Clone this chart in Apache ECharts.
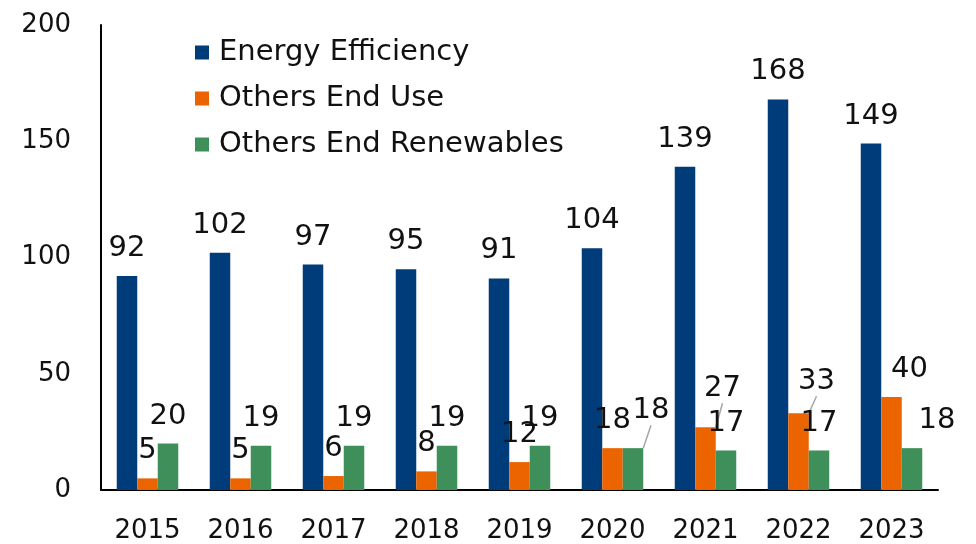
<!DOCTYPE html>
<html>
<head>
<meta charset="utf-8">
<script src="https://cdn.jsdelivr.net/npm/echarts@6/dist/echarts.min.js"></script>
<style>
  html, body { margin: 0; padding: 0; background: #fff; }
  #main { width: 976px; height: 544px; }
</style>
</head>
<body>
<div id="main"></div>
<script>
// data
var years = ['2015', '2016', '2017', '2018', '2019', '2020', '2021', '2022', '2023'];
var energyEfficiency = [92, 102, 97, 95, 91, 104, 139, 168, 149];
var othersEndUse = [5, 5, 6, 8, 12, 18, 27, 33, 40];
var othersEndRenewables = [20, 19, 19, 19, 19, 18, 17, 17, 18];
var yTicks = [0, 50, 100, 150, 200];

// labels that were dragged aside in the original (series -> dataIndex -> [dx, dy, line])
var labelShift = {
  1: { 6: [17, -11, true], 7: [18, -4, true], 8: [18, 0, false] },
  2: { 5: [18, -10, true], 8: [25, 0, false] }
};

var font = 'DejaVu Sans';

function items(values, seriesIdx) {
  return values.map(function (v, i) {
    var s = labelShift[seriesIdx] && labelShift[seriesIdx][i];
    return {
      value: v,
      labelLine: { show: !!(s && s[2]) }
    };
  });
}

function barSeries(name, values, color, idx) {
  return {
    name: name,
    type: 'bar',
    barWidth: 20.5,
    barGap: '0%',
    data: items(values, idx),
    itemStyle: { color: color },
    label: {
      show: true,
      position: 'top',
      distance: 13,
      color: '#111',
      fontFamily: font,
      fontSize: 29
    },
    labelLine: {
      show: false,
      lineStyle: { color: '#a6a6a6', width: 1.5 }
    },
    labelLayout: function (p) {
      var s = labelShift[idx] && labelShift[idx][p.dataIndex];
      if (!s) return {};
      return { dx: s[0], dy: s[1] };
    }
  };
}

var chart = echarts.init(document.getElementById('main'));
chart.setOption({
  animation: false,
  backgroundColor: '#fff',
  grid: { left: 101, right: 38, top: 25, bottom: 54 },
  legend: {
    orient: 'vertical',
    left: 190,
    top: 33,
    itemWidth: 14,
    itemHeight: 14,
    itemGap: 17,
    icon: 'rect',
    textStyle: { fontFamily: font, fontSize: 29, color: '#111', padding: [0, 0, 0, 5] },
    data: ['Energy Efficiency', 'Others End Use', 'Others End Renewables']
  },
  xAxis: {
    type: 'category',
    data: years,
    axisLine: { lineStyle: { color: '#000', width: 2 } },
    axisTick: { show: false },
    axisLabel: { fontFamily: font, fontSize: 26, color: '#111', margin: 28 }
  },
  yAxis: {
    type: 'value',
    min: yTicks[0],
    max: yTicks[yTicks.length - 1],
    interval: yTicks[1] - yTicks[0],
    axisLine: { show: true, lineStyle: { color: '#000', width: 2 } },
    axisTick: { show: false },
    splitLine: { show: false },
    axisLabel: { fontFamily: font, fontSize: 26, color: '#111', margin: 30 }
  },
  series: [
    barSeries('Energy Efficiency', energyEfficiency, '#003B7A', 0),
    barSeries('Others End Use', othersEndUse, '#EB6400', 1),
    barSeries('Others End Renewables', othersEndRenewables, '#3F8F5A', 2)
  ]
});
</script>
</body>
</html>
